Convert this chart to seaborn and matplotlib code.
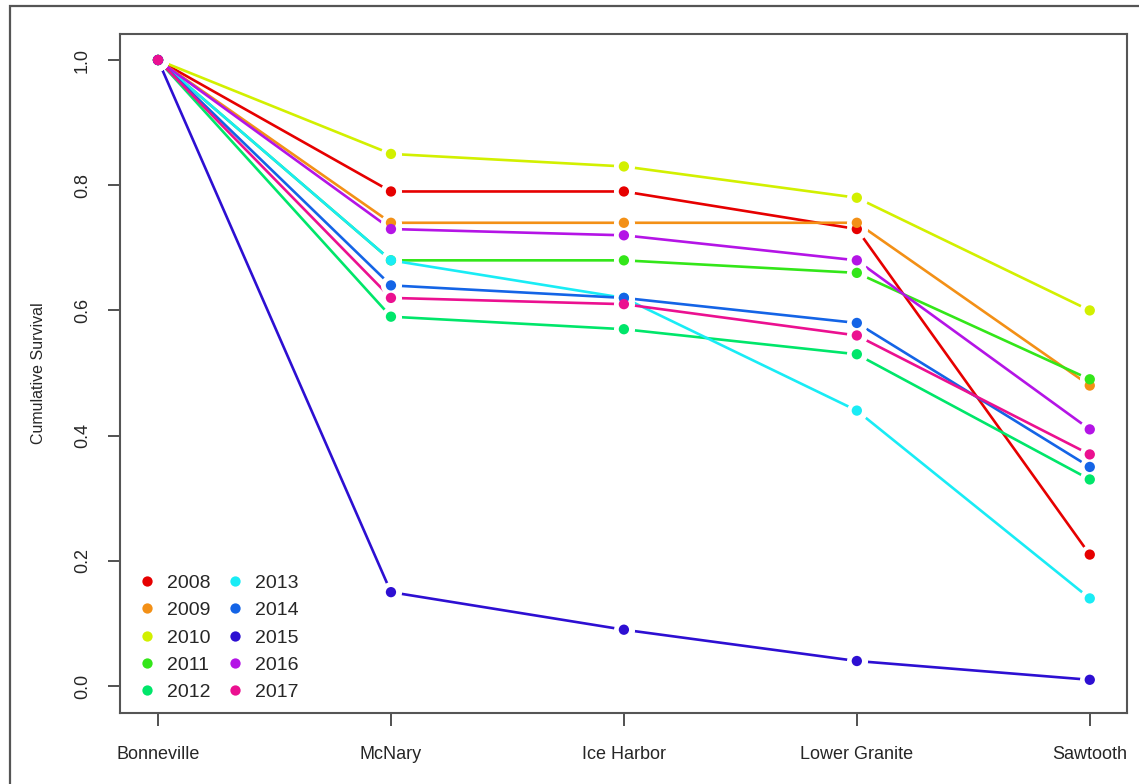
import numpy as np
import pandas as pd
import matplotlib
matplotlib.use('Agg')
import matplotlib.pyplot as plt
from matplotlib.patches import Rectangle
import seaborn as sns

# Stations along the migration route
stations = ['Bonneville', 'McNary', 'Ice Harbor', 'Lower Granite', 'Sawtooth']
years = ['2008', '2009', '2010', '2011', '2012', '2013', '2014', '2015', '2016', '2017']

# Cumulative survival at each station, per year
surv_2008 = [1.0, 0.79, 0.79, 0.73, 0.21]
surv_2009 = [1.0, 0.74, 0.74, 0.74, 0.48]
surv_2010 = [1.0, 0.85, 0.83, 0.78, 0.60]
surv_2011 = [1.0, 0.68, 0.68, 0.66, 0.49]
surv_2012 = [1.0, 0.59, 0.57, 0.53, 0.33]
surv_2013 = [1.0, 0.68, 0.62, 0.44, 0.14]
surv_2014 = [1.0, 0.64, 0.62, 0.58, 0.35]
surv_2015 = [1.0, 0.15, 0.09, 0.04, 0.01]
surv_2016 = [1.0, 0.73, 0.72, 0.68, 0.41]
surv_2017 = [1.0, 0.62, 0.61, 0.56, 0.37]

colors = ['#e60000', '#f39016', '#d2f000', '#33e619', '#00e66a',
          '#19ecf5', '#1464e6', '#2d0fd2', '#b414e6', '#eb1090']


def build_frame():
    series = [surv_2008, surv_2009, surv_2010, surv_2011, surv_2012,
              surv_2013, surv_2014, surv_2015, surv_2016, surv_2017]
    rows = []
    for yr, vals in zip(years, series):
        for i, v in enumerate(vals):
            rows.append({'Year': yr, 'pos': i, 'Survival': v})
    return pd.DataFrame(rows)


def main():
    df = build_frame()
    sns.set_theme(style='ticks')
    plt.rcParams['font.family'] = ['Liberation Sans', 'DejaVu Sans']
    palette = dict(zip(years, colors))

    fig = plt.figure(figsize=(11.39, 7.84), dpi=100)
    ax = fig.add_axes([0.1054, 0.0906, 0.8841, 0.866])

    sns.lineplot(data=df, x='pos', y='Survival', hue='Year', hue_order=years,
                 palette=palette, linewidth=1.9, legend=False, ax=ax)
    # white halo so the lines stop short of the points (R type="b" look)
    sns.scatterplot(data=df, x='pos', y='Survival', color='white', s=230,
                    linewidth=0, legend=False, ax=ax, zorder=3)
    sns.scatterplot(data=df, x='pos', y='Survival', hue='Year', hue_order=years,
                    palette=palette, s=55, linewidth=0, ax=ax, zorder=4)

    ax.set_xlim(-0.163, 4.16)
    ax.set_ylim(-0.043, 1.0415)
    ax.set_xticks(range(len(stations)))
    ax.set_xticklabels(stations, fontsize=13)
    ax.set_yticks([0.0, 0.2, 0.4, 0.6, 0.8, 1.0])
    ax.set_yticklabels(['0.0', '0.2', '0.4', '0.6', '0.8', '1.0'], fontsize=13)
    for lab in ax.get_yticklabels():
        lab.set_rotation(90)
        lab.set_va('center')
    ax.tick_params(axis='x', length=9, width=1.2, pad=15, color='#333333')
    ax.tick_params(axis='y', length=9, width=1.2, pad=12, color='#333333')
    ax.set_xlabel('')
    ax.set_ylabel('Cumulative Survival', fontsize=11.5, labelpad=20)
    for sp in ax.spines.values():
        sp.set_color('#555555')
        sp.set_linewidth(1.5)

    handles, labels = ax.get_legend_handles_labels()
    ax.legend(handles, labels, ncol=2, loc='lower left', frameon=False,
              fontsize=14, handletextpad=0.2, columnspacing=0.5,
              labelspacing=0.5, borderaxespad=0.2, handlelength=1.6,
              markerscale=1.0)

    # outer frame of the original figure
    fig.add_artist(Rectangle((10 / 1139, -0.2), 1.2, 1.2 - 6 / 784,
                             transform=fig.transFigure, fill=False,
                             edgecolor='#555555', linewidth=1.6))

    fig.savefig('out.png', dpi=100)
    plt.close(fig)


if __name__ == '__main__':
    main()
